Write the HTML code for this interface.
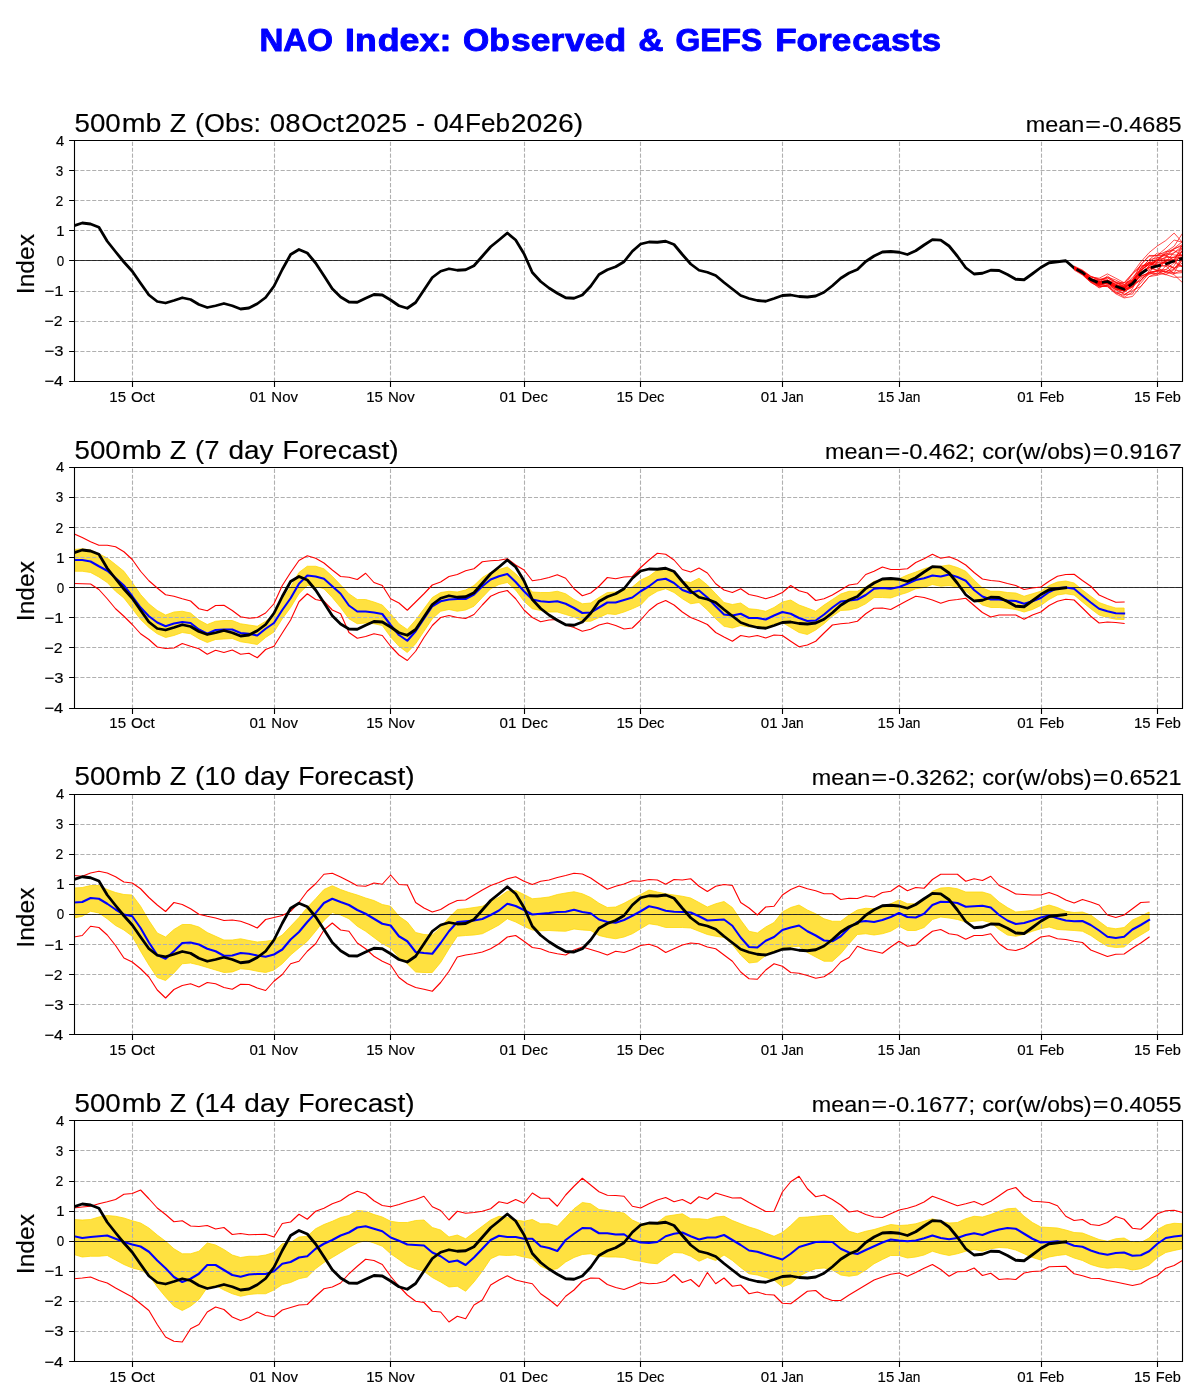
<!DOCTYPE html>
<html><head><meta charset="utf-8"><title>NAO Index: Observed &amp; GEFS Forecasts</title>
<style>
html,body{margin:0;padding:0;background:#fff}
svg{display:block;will-change:transform}
text{font-family:"Liberation Sans",sans-serif;fill:#000;stroke:#000;stroke-width:.15}
.g{stroke:#b0b0b0;stroke-width:1.11;stroke-dasharray:4.11 1.78;fill:none}
.s{stroke:#000;stroke-width:1.11;fill:none}
.o{stroke:#000;stroke-width:2.78;fill:none;stroke-linejoin:round;stroke-linecap:square}
.b{stroke:#00f;stroke-width:2.08;fill:none;stroke-linejoin:round;stroke-linecap:square}
.r{stroke:#f00;stroke-width:1.11;fill:none;stroke-linejoin:round;stroke-linecap:square}
.m{stroke:#f00;stroke-width:.7;fill:none;stroke-linejoin:round}
.y{fill:#ffd700;fill-opacity:.75;stroke:#ffd700;stroke-opacity:.75;stroke-width:1;stroke-linejoin:round}
.tk{font-size:14.7px}
.tt{font-size:26.4px}
.rt{font-size:22px;text-anchor:end}
.yl{font-size:24.2px;text-anchor:middle}
</style></head>
<body>
<svg width="1200" height="1400" viewBox="0 0 1200 1400">
<rect width="1200" height="1400" fill="#fff"/>
<g font-weight="bold" style="fill:#00f"><text x="259.43" y="50.6" font-size="30.5" textLength="73.56" lengthAdjust="spacingAndGlyphs" style="fill:#00f;stroke:#00f;stroke-width:.9;stroke-linejoin:round">NAO</text><text x="345.1" y="50.6" font-size="30.5" textLength="31.62" lengthAdjust="spacingAndGlyphs" style="fill:#00f;stroke:#00f;stroke-width:.9;stroke-linejoin:round">In</text><text x="377.69" y="50.6" font-size="30.5" textLength="73.76" lengthAdjust="spacingAndGlyphs" style="fill:#00f;stroke:#00f;stroke-width:.9;stroke-linejoin:round">dex:</text><text x="463.09" y="50.6" font-size="30.5" textLength="46.82" lengthAdjust="spacingAndGlyphs" style="fill:#00f;stroke:#00f;stroke-width:.9;stroke-linejoin:round">Ob</text><text x="511.14" y="50.6" font-size="30.5" textLength="53.19" lengthAdjust="spacingAndGlyphs" style="fill:#00f;stroke:#00f;stroke-width:.9;stroke-linejoin:round">ser</text><text x="565.11" y="50.6" font-size="30.5" textLength="61.06" lengthAdjust="spacingAndGlyphs" style="fill:#00f;stroke:#00f;stroke-width:.9;stroke-linejoin:round">ved</text><text x="638.23" y="50.6" font-size="30.5" textLength="25.26" lengthAdjust="spacingAndGlyphs" style="fill:#00f;stroke:#00f;stroke-width:.9;stroke-linejoin:round">&amp;</text><text x="675.44" y="50.6" font-size="30.5" textLength="86.72" lengthAdjust="spacingAndGlyphs" style="fill:#00f;stroke:#00f;stroke-width:.9;stroke-linejoin:round">GEFS</text><text x="775.15" y="50.6" font-size="30.5" textLength="76.02" lengthAdjust="spacingAndGlyphs" style="fill:#00f;stroke:#00f;stroke-width:.9;stroke-linejoin:round">Fore</text><text x="852.31" y="50.6" font-size="30.5" textLength="88.83" lengthAdjust="spacingAndGlyphs" style="fill:#00f;stroke:#00f;stroke-width:.9;stroke-linejoin:round">casts</text></g>
<defs><clipPath id="c0"><rect x="74" y="140" width="1109" height="242"/></clipPath><clipPath id="c1"><rect x="74" y="467" width="1109" height="242"/></clipPath><clipPath id="c2"><rect x="74" y="794" width="1109" height="241"/></clipPath><clipPath id="c3"><rect x="74" y="1120" width="1109" height="242"/></clipPath></defs>
<g id="panel1">
<g clip-path="url(#c0)">
<path class="g" d="M74.5 170.5H1182.5M74.5 200.5H1182.5M74.5 230.5H1182.5M74.5 260.5H1182.5M74.5 291.5H1182.5M74.5 321.5H1182.5M74.5 351.5H1182.5M132.5 381.5V140.5M274.5 381.5V140.5M390.5 381.5V140.5M524.5 381.5V140.5M640.5 381.5V140.5M782.5 381.5V140.5M899.5 381.5V140.5M1041.5 381.5V140.5M1157.5 381.5V140.5"/>
<path class="s" style="stroke-width:.78" d="M74.5 260.5H1182.5"/>
<path class="o" d="M73.9 225.75 L82.24 223 L90.57 224 L98.91 227.25 L107.24 241.25 L115.58 251.75 L123.91 262 L132.25 271.25 L140.58 283.25 L148.92 295 L157.25 301.5 L165.59 303 L173.92 300.5 L182.26 297.75 L190.59 299.5 L198.93 304.5 L207.26 307.5 L215.6 305.75 L223.93 303.5 L232.27 305.75 L240.6 309 L248.94 308 L257.27 303.75 L265.61 297.5 L273.94 286.25 L282.28 269.5 L290.61 254.5 L298.95 249.5 L307.28 253 L315.62 263 L323.95 275.75 L332.29 288.75 L340.62 297 L348.96 302 L357.29 302.25 L365.62 298.25 L373.96 294.5 L382.3 295 L390.63 300 L398.97 305.75 L407.3 308.25 L415.63 302.5 L423.97 290 L432.31 277.5 L440.64 271.25 L448.98 268.75 L457.31 270.25 L465.65 269.75 L473.98 265.75 L482.32 256.25 L490.65 246.75 L498.99 240 L507.32 233 L515.66 240 L523.99 253.75 L532.33 272.5 L540.66 281.5 L549 288 L557.33 293.25 L565.67 297.75 L574 298.25 L582.34 295 L590.67 286.25 L599 274.5 L607.34 269.75 L615.68 266.75 L624.01 261.75 L632.35 251.25 L640.68 244 L649.01 242 L657.35 242.25 L665.69 241.25 L674.02 244.5 L682.36 254.5 L690.69 264 L699.03 270.25 L707.36 272.25 L715.7 275.5 L724.03 282.5 L732.37 289 L740.7 295.5 L749.04 298.5 L757.37 300.5 L765.71 301.25 L774.04 298.5 L782.38 295.5 L790.71 295 L799.05 296.5 L807.38 297 L815.72 296 L824.05 292.25 L832.39 285.75 L840.72 278.25 L849.06 273 L857.39 269.5 L865.73 261.5 L874.06 256 L882.4 252 L890.73 251.5 L899.07 252.25 L907.4 254.5 L915.74 250.75 L924.07 245 L932.41 239.6 L940.74 240.1 L949.08 246 L957.41 256.25 L965.75 267.75 L974.08 274 L982.42 273.25 L990.75 270.25 L999.09 270.5 L1007.42 274.5 L1015.76 279.25 L1024.09 279.75 L1032.43 273.75 L1040.76 267.5 L1049.1 262.75 L1057.43 261.75 L1065.77 260.75 L1074.1 268"/>
<path class="m" d="M1074.1 269.15 L1082.44 273.47 L1090.77 278.76 L1099.11 282.39 L1107.44 280.75 L1115.78 284.56 L1124.11 287.6 L1132.45 282.08 L1140.78 268.13 L1149.12 259.88 L1157.45 257.6 L1165.79 259.68 L1174.12 259.63 L1182.46 248.03M1074.1 267.96 L1082.44 272.13 L1090.77 279.23 L1099.11 280.17 L1107.44 277.57 L1115.78 282.57 L1124.11 286.74 L1132.45 283.77 L1140.78 280.65 L1149.12 270.81 L1157.45 266.07 L1165.79 261.31 L1174.12 257.04 L1182.46 251.21M1074.1 268.27 L1082.44 272.86 L1090.77 280.64 L1099.11 282.63 L1107.44 282.91 L1115.78 287.97 L1124.11 289.23 L1132.45 283.47 L1140.78 273.03 L1149.12 269.75 L1157.45 262.82 L1165.79 262.09 L1174.12 261.34 L1182.46 250.81M1074.1 268.92 L1082.44 273.83 L1090.77 281.93 L1099.11 286.3 L1107.44 285.96 L1115.78 292.88 L1124.11 292.42 L1132.45 284.93 L1140.78 267.98 L1149.12 262.19 L1157.45 267.67 L1165.79 272.8 L1174.12 272.99 L1182.46 257.81M1074.1 268.69 L1082.44 273.56 L1090.77 280.78 L1099.11 285.9 L1107.44 286.3 L1115.78 292.96 L1124.11 295.33 L1132.45 288.8 L1140.78 272.49 L1149.12 268.46 L1157.45 259.2 L1165.79 261.35 L1174.12 268.72 L1182.46 260.74M1074.1 266.93 L1082.44 270.77 L1090.77 276.91 L1099.11 279.51 L1107.44 277.24 L1115.78 280.02 L1124.11 284.6 L1132.45 280.88 L1140.78 273.69 L1149.12 266.99 L1157.45 270.1 L1165.79 269.51 L1174.12 273.38 L1182.46 272.57M1074.1 268.69 L1082.44 274.57 L1090.77 281.79 L1099.11 287.93 L1107.44 284.53 L1115.78 286.12 L1124.11 290.74 L1132.45 284.64 L1140.78 276.51 L1149.12 272.67 L1157.45 270.4 L1165.79 271.64 L1174.12 269.27 L1182.46 257.33M1074.1 270.07 L1082.44 274.94 L1090.77 282.52 L1099.11 286.98 L1107.44 285.21 L1115.78 291.5 L1124.11 297.19 L1132.45 292.1 L1140.78 283.13 L1149.12 273.21 L1157.45 261 L1165.79 257.62 L1174.12 257.22 L1182.46 254.48M1074.1 268.38 L1082.44 272.16 L1090.77 278.55 L1099.11 282.27 L1107.44 281.04 L1115.78 285.07 L1124.11 289.2 L1132.45 286.22 L1140.78 273.97 L1149.12 266.02 L1157.45 260.58 L1165.79 253.46 L1174.12 254.93 L1182.46 255.64M1074.1 267.46 L1082.44 272.76 L1090.77 280.15 L1099.11 285.82 L1107.44 286.68 L1115.78 293.81 L1124.11 297.95 L1132.45 296.5 L1140.78 286.61 L1149.12 276.68 L1157.45 272.88 L1165.79 274.76 L1174.12 269.71 L1182.46 271.62M1074.1 267.07 L1082.44 270.88 L1090.77 279.01 L1099.11 282.13 L1107.44 280.14 L1115.78 283.77 L1124.11 283.14 L1132.45 273.96 L1140.78 265.12 L1149.12 265.88 L1157.45 259.27 L1165.79 251.89 L1174.12 246.24 L1182.46 233.41M1074.1 268.5 L1082.44 273.52 L1090.77 279.46 L1099.11 281.53 L1107.44 282.57 L1115.78 286.08 L1124.11 286.65 L1132.45 277.16 L1140.78 269.73 L1149.12 259.7 L1157.45 252.92 L1165.79 254.83 L1174.12 249.15 L1182.46 244.4M1074.1 269.26 L1082.44 272.82 L1090.77 279.74 L1099.11 282.89 L1107.44 281.89 L1115.78 286.63 L1124.11 286.17 L1132.45 281.36 L1140.78 264.57 L1149.12 256.31 L1157.45 255.69 L1165.79 255.11 L1174.12 260.5 L1182.46 244.8M1074.1 267.24 L1082.44 272.17 L1090.77 279.76 L1099.11 283.12 L1107.44 283.21 L1115.78 289.91 L1124.11 288.46 L1132.45 282.58 L1140.78 269.89 L1149.12 262 L1157.45 262.91 L1165.79 256.25 L1174.12 257.74 L1182.46 257.72M1074.1 267.38 L1082.44 271.92 L1090.77 278.48 L1099.11 281.4 L1107.44 281.43 L1115.78 288.86 L1124.11 290.62 L1132.45 285.16 L1140.78 274.28 L1149.12 267.41 L1157.45 270.79 L1165.79 271.45 L1174.12 274.79 L1182.46 282.57M1074.1 267.85 L1082.44 272.49 L1090.77 279.74 L1099.11 284.48 L1107.44 285.18 L1115.78 289.38 L1124.11 294.44 L1132.45 294.12 L1140.78 280.44 L1149.12 272.58 L1157.45 273.95 L1165.79 269.67 L1174.12 262.82 L1182.46 255.1M1074.1 268.25 L1082.44 272.88 L1090.77 280.17 L1099.11 283.8 L1107.44 281.94 L1115.78 286.77 L1124.11 294.35 L1132.45 290.41 L1140.78 286.49 L1149.12 276.57 L1157.45 275.26 L1165.79 272.53 L1174.12 265.79 L1182.46 250M1074.1 267.91 L1082.44 272.49 L1090.77 280.42 L1099.11 285.5 L1107.44 282.73 L1115.78 287.82 L1124.11 289.44 L1132.45 280.48 L1140.78 270.73 L1149.12 263.64 L1157.45 260.23 L1165.79 252.83 L1174.12 248.59 L1182.46 245.87M1074.1 268.5 L1082.44 273.96 L1090.77 279.69 L1099.11 283.21 L1107.44 280.3 L1115.78 285.91 L1124.11 289.49 L1132.45 286.85 L1140.78 278.02 L1149.12 274.45 L1157.45 270.52 L1165.79 257.14 L1174.12 248.31 L1182.46 241.6M1074.1 268.62 L1082.44 274.2 L1090.77 281.17 L1099.11 283.87 L1107.44 282.23 L1115.78 287.28 L1124.11 291.3 L1132.45 287.37 L1140.78 273.36 L1149.12 266.12 L1157.45 259.12 L1165.79 264.27 L1174.12 268.5 L1182.46 265.24M1074.1 268.94 L1082.44 274.34 L1090.77 281.75 L1099.11 284.66 L1107.44 282.76 L1115.78 289.98 L1124.11 290.4 L1132.45 283.83 L1140.78 275.73 L1149.12 273.45 L1157.45 274.39 L1165.79 266.06 L1174.12 273.63 L1182.46 269.82M1074.1 266.05 L1082.44 270.05 L1090.77 276.2 L1099.11 279.21 L1107.44 280.03 L1115.78 286.81 L1124.11 288.68 L1132.45 281.05 L1140.78 276.69 L1149.12 272.39 L1157.45 270.9 L1165.79 274.57 L1174.12 277.32 L1182.46 277.05M1074.1 266.73 L1082.44 270.82 L1090.77 276.5 L1099.11 280.42 L1107.44 278.12 L1115.78 281.93 L1124.11 282.74 L1132.45 280.13 L1140.78 270.72 L1149.12 263.65 L1157.45 264.38 L1165.79 262.3 L1174.12 262.43 L1182.46 266.94M1074.1 268.36 L1082.44 272.59 L1090.77 279.82 L1099.11 283.41 L1107.44 281.35 L1115.78 284.42 L1124.11 287.87 L1132.45 279.97 L1140.78 270.28 L1149.12 264.32 L1157.45 257.7 L1165.79 255.31 L1174.12 252.82 L1182.46 248.04M1074.1 268.85 L1082.44 273.43 L1090.77 279.2 L1099.11 282.37 L1107.44 275.95 L1115.78 282.3 L1124.11 284.83 L1132.45 279.28 L1140.78 264.98 L1149.12 255.45 L1157.45 255.48 L1165.79 251.51 L1174.12 250.48 L1182.46 255.88M1074.1 267.54 L1082.44 271.16 L1090.77 276.9 L1099.11 278.24 L1107.44 273.9 L1115.78 278.21 L1124.11 282.73 L1132.45 273.27 L1140.78 261.96 L1149.12 252.63 L1157.45 245.87 L1165.79 240.56 L1174.12 233.09 L1182.46 242.35M1074.1 267.36 L1082.44 272.19 L1090.77 279.93 L1099.11 284.89 L1107.44 283.13 L1115.78 288.04 L1124.11 291.6 L1132.45 286.59 L1140.78 279.91 L1149.12 272.31 L1157.45 271.57 L1165.79 259.9 L1174.12 260.64 L1182.46 267.19M1074.1 267.13 L1082.44 271.98 L1090.77 278.78 L1099.11 281.32 L1107.44 281.47 L1115.78 287.56 L1124.11 287.56 L1132.45 282.48 L1140.78 272.09 L1149.12 267.79 L1157.45 265.02 L1165.79 266.48 L1174.12 260.79 L1182.46 256.66M1074.1 268.1 L1082.44 272.75 L1090.77 279.58 L1099.11 281.85 L1107.44 280.19 L1115.78 284.76 L1124.11 286.07 L1132.45 282.19 L1140.78 270.24 L1149.12 264.33 L1157.45 266.15 L1165.79 265.44 L1174.12 267.89 L1182.46 263.04M1074.1 268.13 L1082.44 272.79 L1090.77 279.99 L1099.11 283.81 L1107.44 283.37 L1115.78 285.97 L1124.11 288.64 L1132.45 281.69 L1140.78 271.78 L1149.12 262.57 L1157.45 255.27 L1165.79 248.23 L1174.12 240.06 L1182.46 242.21M1074.1 268.22 L1082.44 271.64 L1090.77 278.68 L1099.11 282.22 L1107.44 280.41 L1115.78 282.29 L1124.11 286.12 L1132.45 273.86 L1140.78 266.72 L1149.12 262.66 L1157.45 264.96 L1165.79 261.7 L1174.12 252.43 L1182.46 246.08"/>
<path class="o" style="stroke-linecap:butt;stroke-width:2.78;stroke-dasharray:10.3 4.45;stroke-dashoffset:12.0" d="M1074.1 268 L1082.44 272.5 L1090.77 279.5 L1099.11 283 L1107.44 281.5 L1115.78 286.25 L1124.11 289.25 L1132.45 283.75 L1140.78 273.75 L1149.12 268 L1157.45 266 L1165.79 264 L1174.12 261 L1182.46 258.25"/>
</g>
<path class="s" d="M74.5 140.5H1182.5V381.5H74.5ZM74.5 140.5h-5.4M74.5 170.5h-5.4M74.5 200.5h-5.4M74.5 230.5h-5.4M74.5 260.5h-5.4M74.5 291.5h-5.4M74.5 321.5h-5.4M74.5 351.5h-5.4M74.5 381.5h-5.4M132.5 381.5v5.4M274.5 381.5v5.4M390.5 381.5v5.4M524.5 381.5v5.4M640.5 381.5v5.4M782.5 381.5v5.4M899.5 381.5v5.4M1041.5 381.5v5.4M1157.5 381.5v5.4"/>
<text x="55.96" y="146" font-size="14.7" textLength="8.17" lengthAdjust="spacingAndGlyphs">4</text><text x="55.79" y="176" font-size="14.7" textLength="7.51" lengthAdjust="spacingAndGlyphs">3</text><text x="55.59" y="206" font-size="14.7" textLength="7.81" lengthAdjust="spacingAndGlyphs">2</text><text x="56.17" y="236" font-size="14.7" textLength="8.26" lengthAdjust="spacingAndGlyphs">1</text><text x="56.78" y="266" font-size="14.7" textLength="7.45" lengthAdjust="spacingAndGlyphs">0</text><text x="44.48" y="296" font-size="14.7" textLength="19.04" lengthAdjust="spacingAndGlyphs">−1</text><text x="44.52" y="326" font-size="14.7" textLength="17.97" lengthAdjust="spacingAndGlyphs">−2</text><text x="44.48" y="356" font-size="14.7" textLength="18.95" lengthAdjust="spacingAndGlyphs">−3</text><text x="44.49" y="386" font-size="14.7" textLength="18.69" lengthAdjust="spacingAndGlyphs">−4</text>
<text x="109.33" y="402" font-size="14.7" textLength="16.71" lengthAdjust="spacingAndGlyphs">15</text><text x="131.1" y="402" font-size="14.7" textLength="23.74" lengthAdjust="spacingAndGlyphs">Oct</text><text x="249.44" y="402" font-size="14.7" textLength="16.8" lengthAdjust="spacingAndGlyphs">01</text><text x="271.34" y="402" font-size="14.7" textLength="26.61" lengthAdjust="spacingAndGlyphs">Nov</text><text x="366.2" y="402" font-size="14.7" textLength="16.71" lengthAdjust="spacingAndGlyphs">15</text><text x="388.04" y="402" font-size="14.7" textLength="26.61" lengthAdjust="spacingAndGlyphs">Nov</text><text x="499.64" y="402" font-size="14.7" textLength="16.8" lengthAdjust="spacingAndGlyphs">01</text><text x="521.55" y="402" font-size="14.7" textLength="26.25" lengthAdjust="spacingAndGlyphs">Dec</text><text x="616.4" y="402" font-size="14.7" textLength="16.71" lengthAdjust="spacingAndGlyphs">15</text><text x="638.26" y="402" font-size="14.7" textLength="26.25" lengthAdjust="spacingAndGlyphs">Dec</text><text x="760.79" y="402" font-size="14.7" textLength="16.8" lengthAdjust="spacingAndGlyphs">01</text><text x="781.62" y="402" font-size="14.7" textLength="22.05" lengthAdjust="spacingAndGlyphs">Jan</text><text x="877.55" y="402" font-size="14.7" textLength="16.71" lengthAdjust="spacingAndGlyphs">15</text><text x="898.32" y="402" font-size="14.7" textLength="22.05" lengthAdjust="spacingAndGlyphs">Jan</text><text x="1017.23" y="402" font-size="14.7" textLength="16.8" lengthAdjust="spacingAndGlyphs">01</text><text x="1039.17" y="402" font-size="14.7" textLength="25.03" lengthAdjust="spacingAndGlyphs">Feb</text><text x="1133.99" y="402" font-size="14.7" textLength="16.71" lengthAdjust="spacingAndGlyphs">15</text><text x="1155.87" y="402" font-size="14.7" textLength="25.03" lengthAdjust="spacingAndGlyphs">Feb</text>
<text x="74.47" y="132" font-size="26.4" textLength="46.32" lengthAdjust="spacingAndGlyphs">500</text><text x="121.74" y="132" font-size="26.4" textLength="39.68" lengthAdjust="spacingAndGlyphs">mb</text><text x="169.8" y="132" font-size="26.4" textLength="16.59" lengthAdjust="spacingAndGlyphs">Z</text><text x="195.09" y="132" font-size="26.4" textLength="65.81" lengthAdjust="spacingAndGlyphs">(Obs:</text><text x="269.87" y="132" font-size="26.4" textLength="30.73" lengthAdjust="spacingAndGlyphs">08</text><text x="301.22" y="132" font-size="26.4" textLength="42.73" lengthAdjust="spacingAndGlyphs">Oct</text><text x="344.77" y="132" font-size="26.4" textLength="62.19" lengthAdjust="spacingAndGlyphs">2025</text><text x="415.93" y="132" font-size="26.4" textLength="8.97" lengthAdjust="spacingAndGlyphs">-</text><text x="433.45" y="132" font-size="26.4" textLength="30.64" lengthAdjust="spacingAndGlyphs">04</text><text x="465" y="132" font-size="26.4" textLength="45.05" lengthAdjust="spacingAndGlyphs">Feb</text><text x="510.72" y="132" font-size="26.4" textLength="72.58" lengthAdjust="spacingAndGlyphs">2026)</text>
<text x="1025.73" y="132" font-size="22" textLength="58.49" lengthAdjust="spacingAndGlyphs">mean</text><text x="1085.37" y="132" font-size="22" textLength="15.68" lengthAdjust="spacingAndGlyphs">=</text><text x="1101.9" y="132" font-size="22" textLength="79.6" lengthAdjust="spacingAndGlyphs">-0.4685</text>
<text transform="translate(34.1 291.9) rotate(-90)" x="-2.27" y="0" font-size="24.2" textLength="60.13" lengthAdjust="spacingAndGlyphs">Index</text>
</g>
<g id="panel2">
<g clip-path="url(#c1)">
<path class="y" d="M73.9 549.5 L82.24 548.75 L90.57 550 L98.91 553.75 L107.24 558 L115.58 564.5 L123.91 571.25 L132.25 582.5 L140.58 594.5 L148.92 603.75 L157.25 610.5 L165.59 615 L173.92 612 L182.26 611.25 L190.59 613 L198.93 620 L207.26 624.5 L215.6 621.25 L223.93 620.5 L232.27 620.5 L240.6 623.75 L248.94 625 L257.27 626.25 L265.61 621.25 L273.94 615 L282.28 599.5 L290.61 587 L298.95 572.5 L307.28 566.25 L315.62 566.25 L323.95 568.75 L332.29 576.25 L340.62 585 L348.96 593.75 L357.29 599.5 L365.62 599.5 L373.96 602 L382.3 605 L390.63 613.75 L398.97 623.75 L407.3 629.5 L415.63 620 L423.97 608.75 L432.31 597.5 L440.64 592.5 L448.98 591.25 L457.31 592 L465.65 590 L473.98 585.5 L482.32 577.5 L490.65 572.5 L498.99 569.5 L507.32 567 L515.66 573.75 L523.99 582.5 L532.33 592 L540.66 592.5 L549 592.5 L557.33 591.25 L565.67 593.75 L574 599.5 L582.34 603.75 L590.67 603 L599 597.5 L607.34 592.5 L615.68 592 L624.01 590 L632.35 587 L640.68 580 L649.01 576.25 L657.35 570 L665.69 568.75 L674.02 573.75 L682.36 581.25 L690.69 582.5 L699.03 578.25 L707.36 585 L715.7 593.75 L724.03 602.5 L732.37 604.5 L740.7 603 L749.04 608.75 L757.37 609.5 L765.71 611.25 L774.04 607.5 L782.38 602 L790.71 600 L799.05 605 L807.38 608 L815.72 611.25 L824.05 605 L832.39 599.5 L840.72 594 L849.06 591.25 L857.39 591.25 L865.73 587 L874.06 581.25 L882.4 579.5 L890.73 580 L899.07 578.75 L907.4 575 L915.74 572 L924.07 568.75 L932.41 566.25 L940.74 566.25 L949.08 565 L957.41 567.5 L965.75 571.25 L974.08 580 L982.42 588 L990.75 591.25 L999.09 591.25 L1007.42 592.5 L1015.76 593 L1024.09 596.25 L1032.43 593.75 L1040.76 591.25 L1049.1 585.5 L1057.43 582 L1065.77 581 L1074.1 583 L1082.44 590 L1090.77 596.25 L1099.11 602.5 L1107.44 605.5 L1115.78 608 L1124.11 608 L1124.11 619.5 L1115.78 619.25 L1107.44 617.5 L1099.11 615 L1090.77 608.75 L1082.44 602 L1074.1 595 L1065.77 593.75 L1057.43 595 L1049.1 599.5 L1040.76 605.5 L1032.43 609.5 L1024.09 612 L1015.76 609.5 L1007.42 608.25 L999.09 607.5 L990.75 607.5 L982.42 605 L974.08 598.75 L965.75 591.25 L957.41 587 L949.08 585.5 L940.74 586.25 L932.41 584.5 L924.07 587.5 L915.74 588.75 L907.4 592.5 L899.07 595 L890.73 598 L882.4 597.5 L874.06 597.5 L865.73 603.75 L857.39 608 L849.06 610 L840.72 610.5 L832.39 616.25 L824.05 623.75 L815.72 630 L807.38 634.5 L799.05 632.5 L790.71 627.5 L782.38 622.5 L774.04 623.75 L765.71 627.5 L757.37 627 L749.04 627 L740.7 625.5 L732.37 628 L724.03 626.25 L715.7 618.75 L707.36 610 L699.03 602.5 L690.69 603.75 L682.36 598.75 L674.02 592.5 L665.69 588.75 L657.35 591.25 L649.01 596.25 L640.68 605 L632.35 608.75 L624.01 612 L615.68 614.5 L607.34 613.75 L599 617.5 L590.67 621.25 L582.34 621.25 L574 617 L565.67 614.5 L557.33 612 L549 612 L540.66 610.5 L532.33 608.75 L523.99 601.25 L515.66 590 L507.32 582.5 L498.99 584.5 L490.65 588.75 L482.32 597.5 L473.98 606.25 L465.65 610 L457.31 611.25 L448.98 609.5 L440.64 611.25 L432.31 618.75 L423.97 631.25 L415.63 643.75 L407.3 652.5 L398.97 646.25 L390.63 637 L382.3 625.5 L373.96 623.75 L365.62 623 L357.29 623.75 L348.96 618.75 L340.62 607.5 L332.29 597.5 L323.95 588.75 L315.62 586.25 L307.28 585.5 L298.95 593.75 L290.61 607.5 L282.28 618.75 L273.94 632 L265.61 637.5 L257.27 644.5 L248.94 643 L240.6 641.75 L232.27 638.5 L223.93 639 L215.6 639.5 L207.26 642.5 L198.93 638.75 L190.59 633.75 L182.26 632.5 L173.92 635.5 L165.59 637.5 L157.25 633.75 L148.92 627.5 L140.58 619.5 L132.25 608.75 L123.91 598 L115.58 591.25 L107.24 582.5 L98.91 577 L90.57 572.5 L82.24 571.25 L73.9 571.25Z"/>
<path class="g" d="M74.5 497.5H1182.5M74.5 527.5H1182.5M74.5 557.5H1182.5M74.5 587.5H1182.5M74.5 617.5H1182.5M74.5 647.5H1182.5M74.5 677.5H1182.5M132.5 708.5V467.5M274.5 708.5V467.5M390.5 708.5V467.5M524.5 708.5V467.5M640.5 708.5V467.5M782.5 708.5V467.5M899.5 708.5V467.5M1041.5 708.5V467.5M1157.5 708.5V467.5"/>
<path class="s" style="stroke-width:.78" d="M74.5 587.5H1182.5"/>
<path class="r" d="M73.9 533.75 L82.24 537.5 L90.57 541.75 L98.91 545.25 L107.24 545.25 L115.58 546.75 L123.91 551.75 L132.25 559.5 L140.58 571.25 L148.92 580.75 L157.25 588 L165.59 594.75 L173.92 596.25 L182.26 598.75 L190.59 601 L198.93 608.75 L207.26 610.75 L215.6 605.5 L223.93 605.25 L232.27 610.5 L240.6 616.75 L248.94 618.25 L257.27 617.5 L265.61 613 L273.94 603.75 L282.28 585.5 L290.61 572.5 L298.95 560.5 L307.28 555.75 L315.62 558.25 L323.95 563 L332.29 570 L340.62 576.5 L348.96 577.25 L357.29 579.5 L365.62 573.25 L373.96 582.5 L382.3 585.5 L390.63 598.75 L398.97 603 L407.3 610.25 L415.63 602 L423.97 593.75 L432.31 585 L440.64 582 L448.98 576.5 L457.31 574.5 L465.65 570.75 L473.98 568.75 L482.32 561.75 L490.65 560.75 L498.99 560.25 L507.32 558.75 L515.66 565 L523.99 570 L532.33 580.75 L540.66 579.5 L549 577.5 L557.33 574.75 L565.67 578.25 L574 588.75 L582.34 595.75 L590.67 593 L599 586.25 L607.34 577.5 L615.68 578.75 L624.01 577 L632.35 576.5 L640.68 567.5 L649.01 560 L657.35 553.25 L665.69 554.25 L674.02 560 L682.36 569.5 L690.69 572 L699.03 568 L707.36 573 L715.7 583.75 L724.03 590 L732.37 592.5 L740.7 588.75 L749.04 594.5 L757.37 596.25 L765.71 598.75 L774.04 596.25 L782.38 592.5 L790.71 585.5 L799.05 590.75 L807.38 593 L815.72 600.5 L824.05 598.75 L832.39 595 L840.72 590 L849.06 585 L857.39 583.75 L865.73 574.5 L874.06 571.25 L882.4 567 L890.73 569.5 L899.07 569.5 L907.4 568.75 L915.74 562.5 L924.07 558.75 L932.41 554.25 L940.74 558.25 L949.08 556.75 L957.41 560 L965.75 565 L974.08 572.5 L982.42 579 L990.75 580.5 L999.09 581.25 L1007.42 583.5 L1015.76 585.5 L1024.09 589.5 L1032.43 588 L1040.76 587 L1049.1 581.25 L1057.43 576.25 L1065.77 574.5 L1074.1 574.25 L1082.44 580.5 L1090.77 586.25 L1099.11 595 L1107.44 598.75 L1115.78 602.25 L1124.11 602M73.9 583.5 L82.24 583.75 L90.57 584 L98.91 589.5 L107.24 598.75 L115.58 608.75 L123.91 616.25 L132.25 624.5 L140.58 633.75 L148.92 639.5 L157.25 647 L165.59 648.5 L173.92 648 L182.26 643.5 L190.59 646.25 L198.93 648.75 L207.26 654.25 L215.6 650.25 L223.93 652.5 L232.27 650 L240.6 654.25 L248.94 653.25 L257.27 657.75 L265.61 649.5 L273.94 646.25 L282.28 633 L290.61 620 L298.95 601.75 L307.28 593.75 L315.62 599.5 L323.95 601.25 L332.29 610 L340.62 613.75 L348.96 632.5 L357.29 638.25 L365.62 636.5 L373.96 633.75 L382.3 635.5 L390.63 646.25 L398.97 655 L407.3 660.5 L415.63 651.25 L423.97 637.5 L432.31 625.5 L440.64 617.5 L448.98 615.5 L457.31 617.5 L465.65 618.5 L473.98 614.5 L482.32 605 L490.65 596.25 L498.99 592.5 L507.32 590.5 L515.66 598.75 L523.99 610 L532.33 617.5 L540.66 621.75 L549 620 L557.33 619.5 L565.67 625 L574 627.5 L582.34 631.25 L590.67 629.25 L599 625 L607.34 623 L615.68 625.5 L624.01 629 L632.35 628 L640.68 620 L649.01 610.5 L657.35 604 L665.69 600.5 L674.02 605 L682.36 612 L690.69 617.5 L699.03 620.75 L707.36 624.5 L715.7 632.5 L724.03 637 L732.37 641.25 L740.7 635.5 L749.04 637 L757.37 635.5 L765.71 638 L774.04 635 L782.38 635.5 L790.71 641.25 L799.05 646.75 L807.38 645 L815.72 641.25 L824.05 633 L832.39 625 L840.72 623.75 L849.06 623 L857.39 621.25 L865.73 613.75 L874.06 608.25 L882.4 608 L890.73 609.5 L899.07 605 L907.4 600.5 L915.74 596.25 L924.07 597.5 L932.41 600 L940.74 603.25 L949.08 600.5 L957.41 599.5 L965.75 598.25 L974.08 605.5 L982.42 612.5 L990.75 617 L999.09 615 L1007.42 615 L1015.76 615 L1024.09 619.25 L1032.43 615 L1040.76 612 L1049.1 605.5 L1057.43 601.25 L1065.77 599.25 L1074.1 600 L1082.44 608 L1090.77 616.25 L1099.11 623 L1107.44 622 L1115.78 622.5 L1124.11 623.5"/>
<path class="b" d="M73.9 560 L82.24 560 L90.57 561.5 L98.91 566.25 L107.24 570.75 L115.58 578 L123.91 585.5 L132.25 596.25 L140.58 607.5 L148.92 616.25 L157.25 622.5 L165.59 626.25 L173.92 623.5 L182.26 622 L190.59 623 L198.93 629.5 L207.26 633.75 L215.6 630 L223.93 629.5 L232.27 629.5 L240.6 633 L248.94 633.75 L257.27 635.5 L265.61 628.75 L273.94 623 L282.28 610 L290.61 598.25 L298.95 583.75 L307.28 575.5 L315.62 576.5 L323.95 578.75 L332.29 586.25 L340.62 593.75 L348.96 605.5 L357.29 611.5 L365.62 611.5 L373.96 612.5 L382.3 614 L390.63 625 L398.97 635 L407.3 640.75 L415.63 631.25 L423.97 618.75 L432.31 606.25 L440.64 601.25 L448.98 599.5 L457.31 599 L465.65 599 L473.98 594.5 L482.32 586.25 L490.65 579.5 L498.99 576.25 L507.32 574 L515.66 582 L523.99 591.25 L532.33 599.5 L540.66 601.25 L549 602 L557.33 601.25 L565.67 603.75 L574 608 L582.34 613 L590.67 612.5 L599 607.5 L607.34 602.5 L615.68 602.5 L624.01 600 L632.35 597.5 L640.68 591.25 L649.01 586.25 L657.35 580 L665.69 578.75 L674.02 583 L682.36 590 L690.69 593 L699.03 590.5 L707.36 597.5 L715.7 606.25 L724.03 614.5 L732.37 615.5 L740.7 613.75 L749.04 618 L757.37 618 L765.71 619.5 L774.04 615.5 L782.38 612 L790.71 613.75 L799.05 618 L807.38 621 L815.72 620.5 L824.05 614.5 L832.39 607.5 L840.72 601.5 L849.06 600.5 L857.39 599.5 L865.73 595 L874.06 588.75 L882.4 588 L890.73 588.75 L899.07 587 L907.4 583.75 L915.74 580 L924.07 578.25 L932.41 575.5 L940.74 576.5 L949.08 574.5 L957.41 577 L965.75 580.75 L974.08 590 L982.42 596.5 L990.75 599.5 L999.09 599.5 L1007.42 600.5 L1015.76 601 L1024.09 603.75 L1032.43 601.25 L1040.76 598 L1049.1 592 L1057.43 588 L1065.77 587.5 L1074.1 588.75 L1082.44 595.75 L1090.77 602.5 L1099.11 608.75 L1107.44 611.25 L1115.78 613.25 L1124.11 613.5"/>
<path class="o" d="M73.9 552.75 L82.24 550 L90.57 551 L98.91 554.25 L107.24 568.25 L115.58 578.75 L123.91 589 L132.25 598.25 L140.58 610.25 L148.92 622 L157.25 628.5 L165.59 630 L173.92 627.5 L182.26 624.75 L190.59 626.5 L198.93 631.5 L207.26 634.5 L215.6 632.75 L223.93 630.5 L232.27 632.75 L240.6 636 L248.94 635 L257.27 630.75 L265.61 624.5 L273.94 613.25 L282.28 596.5 L290.61 581.5 L298.95 576.5 L307.28 580 L315.62 590 L323.95 602.75 L332.29 615.75 L340.62 624 L348.96 629 L357.29 629.25 L365.62 625.25 L373.96 621.5 L382.3 622 L390.63 627 L398.97 632.75 L407.3 635.25 L415.63 629.5 L423.97 617 L432.31 604.5 L440.64 598.25 L448.98 595.75 L457.31 597.25 L465.65 596.75 L473.98 592.75 L482.32 583.25 L490.65 573.75 L498.99 567 L507.32 560 L515.66 567 L523.99 580.75 L532.33 599.5 L540.66 608.5 L549 615 L557.33 620.25 L565.67 624.75 L574 625.25 L582.34 622 L590.67 613.25 L599 601.5 L607.34 596.75 L615.68 593.75 L624.01 588.75 L632.35 578.25 L640.68 571 L649.01 569 L657.35 569.25 L665.69 568.25 L674.02 571.5 L682.36 581.5 L690.69 591 L699.03 597.25 L707.36 599.25 L715.7 602.5 L724.03 609.5 L732.37 616 L740.7 622.5 L749.04 625.5 L757.37 627.5 L765.71 628.25 L774.04 625.5 L782.38 622.5 L790.71 622 L799.05 623.5 L807.38 624 L815.72 623 L824.05 619.25 L832.39 612.75 L840.72 605.25 L849.06 600 L857.39 596.5 L865.73 588.5 L874.06 583 L882.4 579 L890.73 578.5 L899.07 579.25 L907.4 581.5 L915.74 577.75 L924.07 572 L932.41 566.6 L940.74 567.1 L949.08 573 L957.41 583.25 L965.75 594.75 L974.08 601 L982.42 600.25 L990.75 597.25 L999.09 597.5 L1007.42 601.5 L1015.76 606.25 L1024.09 606.75 L1032.43 600.75 L1040.76 594.5 L1049.1 589.75 L1057.43 588.75 L1065.77 587.75"/>
</g>
<path class="s" d="M74.5 467.5H1182.5V708.5H74.5ZM74.5 467.5h-5.4M74.5 497.5h-5.4M74.5 527.5h-5.4M74.5 557.5h-5.4M74.5 587.5h-5.4M74.5 617.5h-5.4M74.5 647.5h-5.4M74.5 677.5h-5.4M74.5 708.5h-5.4M132.5 708.5v5.4M274.5 708.5v5.4M390.5 708.5v5.4M524.5 708.5v5.4M640.5 708.5v5.4M782.5 708.5v5.4M899.5 708.5v5.4M1041.5 708.5v5.4M1157.5 708.5v5.4"/>
<text x="55.96" y="472" font-size="14.7" textLength="8.17" lengthAdjust="spacingAndGlyphs">4</text><text x="55.79" y="502" font-size="14.7" textLength="7.51" lengthAdjust="spacingAndGlyphs">3</text><text x="55.59" y="533" font-size="14.7" textLength="7.81" lengthAdjust="spacingAndGlyphs">2</text><text x="56.17" y="563" font-size="14.7" textLength="8.26" lengthAdjust="spacingAndGlyphs">1</text><text x="56.78" y="593" font-size="14.7" textLength="7.45" lengthAdjust="spacingAndGlyphs">0</text><text x="44.48" y="623" font-size="14.7" textLength="19.04" lengthAdjust="spacingAndGlyphs">−1</text><text x="44.52" y="653" font-size="14.7" textLength="17.97" lengthAdjust="spacingAndGlyphs">−2</text><text x="44.48" y="683" font-size="14.7" textLength="18.95" lengthAdjust="spacingAndGlyphs">−3</text><text x="44.49" y="713" font-size="14.7" textLength="18.69" lengthAdjust="spacingAndGlyphs">−4</text>
<text x="109.33" y="728" font-size="14.7" textLength="16.71" lengthAdjust="spacingAndGlyphs">15</text><text x="131.1" y="728" font-size="14.7" textLength="23.74" lengthAdjust="spacingAndGlyphs">Oct</text><text x="249.44" y="728" font-size="14.7" textLength="16.8" lengthAdjust="spacingAndGlyphs">01</text><text x="271.34" y="728" font-size="14.7" textLength="26.61" lengthAdjust="spacingAndGlyphs">Nov</text><text x="366.2" y="728" font-size="14.7" textLength="16.71" lengthAdjust="spacingAndGlyphs">15</text><text x="388.04" y="728" font-size="14.7" textLength="26.61" lengthAdjust="spacingAndGlyphs">Nov</text><text x="499.64" y="728" font-size="14.7" textLength="16.8" lengthAdjust="spacingAndGlyphs">01</text><text x="521.55" y="728" font-size="14.7" textLength="26.25" lengthAdjust="spacingAndGlyphs">Dec</text><text x="616.4" y="728" font-size="14.7" textLength="16.71" lengthAdjust="spacingAndGlyphs">15</text><text x="638.26" y="728" font-size="14.7" textLength="26.25" lengthAdjust="spacingAndGlyphs">Dec</text><text x="760.79" y="728" font-size="14.7" textLength="16.8" lengthAdjust="spacingAndGlyphs">01</text><text x="781.62" y="728" font-size="14.7" textLength="22.05" lengthAdjust="spacingAndGlyphs">Jan</text><text x="877.55" y="728" font-size="14.7" textLength="16.71" lengthAdjust="spacingAndGlyphs">15</text><text x="898.32" y="728" font-size="14.7" textLength="22.05" lengthAdjust="spacingAndGlyphs">Jan</text><text x="1017.23" y="728" font-size="14.7" textLength="16.8" lengthAdjust="spacingAndGlyphs">01</text><text x="1039.17" y="728" font-size="14.7" textLength="25.03" lengthAdjust="spacingAndGlyphs">Feb</text><text x="1133.99" y="728" font-size="14.7" textLength="16.71" lengthAdjust="spacingAndGlyphs">15</text><text x="1155.87" y="728" font-size="14.7" textLength="25.03" lengthAdjust="spacingAndGlyphs">Feb</text>
<text x="74.47" y="459" font-size="26.4" textLength="46.32" lengthAdjust="spacingAndGlyphs">500</text><text x="121.74" y="459" font-size="26.4" textLength="39.68" lengthAdjust="spacingAndGlyphs">mb</text><text x="169.8" y="459" font-size="26.4" textLength="16.59" lengthAdjust="spacingAndGlyphs">Z</text><text x="195.05" y="459" font-size="26.4" textLength="24.46" lengthAdjust="spacingAndGlyphs">(7</text><text x="228.42" y="459" font-size="26.4" textLength="45.09" lengthAdjust="spacingAndGlyphs">day</text><text x="282.41" y="459" font-size="26.4" textLength="54.93" lengthAdjust="spacingAndGlyphs">Fore</text><text x="337.66" y="459" font-size="26.4" textLength="61.06" lengthAdjust="spacingAndGlyphs">cast)</text>
<text x="825.09" y="459" font-size="22" textLength="58.49" lengthAdjust="spacingAndGlyphs">mean</text><text x="884.73" y="459" font-size="22" textLength="15.68" lengthAdjust="spacingAndGlyphs">=</text><text x="901.25" y="459" font-size="22" textLength="73.92" lengthAdjust="spacingAndGlyphs">-0.462;</text><text x="982.22" y="459" font-size="22" textLength="33.02" lengthAdjust="spacingAndGlyphs">cor</text><text x="1015.16" y="459" font-size="22" textLength="31.88" lengthAdjust="spacingAndGlyphs">(w/</text><text x="1047.23" y="459" font-size="22" textLength="44.38" lengthAdjust="spacingAndGlyphs">obs)</text><text x="1092.88" y="459" font-size="22" textLength="15.68" lengthAdjust="spacingAndGlyphs">=</text><text x="1109.9" y="459" font-size="22" textLength="71.84" lengthAdjust="spacingAndGlyphs">0.9167</text>
<text transform="translate(34.1 618.9) rotate(-90)" x="-2.27" y="0" font-size="24.2" textLength="60.13" lengthAdjust="spacingAndGlyphs">Index</text>
</g>
<g id="panel3">
<g clip-path="url(#c2)">
<path class="y" d="M73.9 888 L82.24 887.5 L90.57 885.5 L98.91 885.5 L107.24 889.5 L115.58 892.5 L123.91 894.5 L132.25 895 L140.58 906.25 L148.92 920.5 L157.25 933 L165.59 937 L173.92 929.5 L182.26 924.5 L190.59 924.5 L198.93 927 L207.26 932.5 L215.6 936.25 L223.93 940 L232.27 940 L240.6 938.75 L248.94 940.5 L257.27 942 L265.61 941.25 L273.94 940 L282.28 935 L290.61 926.25 L298.95 917.5 L307.28 907.5 L315.62 898.75 L323.95 889.5 L332.29 885.75 L340.62 889.5 L348.96 892.5 L357.29 895 L365.62 898 L373.96 900.5 L382.3 904.5 L390.63 906.25 L398.97 916.25 L407.3 922 L415.63 932.5 L423.97 934.5 L432.31 935 L440.64 927.5 L448.98 917.5 L457.31 909.5 L465.65 908.75 L473.98 907.5 L482.32 906.25 L490.65 901.5 L498.99 897.25 L507.32 891.25 L515.66 890.5 L523.99 894.5 L532.33 898.75 L540.66 898 L549 897 L557.33 894.5 L565.67 893 L574 891.75 L582.34 893.75 L590.67 897.5 L599 903.25 L607.34 907.5 L615.68 907 L624.01 903.25 L632.35 898.75 L640.68 894.5 L649.01 890 L657.35 892 L665.69 893.75 L674.02 895 L682.36 896.25 L690.69 898 L699.03 902.5 L707.36 907 L715.7 903.75 L724.03 901.5 L732.37 907.5 L740.7 920 L749.04 931.25 L757.37 933 L765.71 927 L774.04 922.5 L782.38 912 L790.71 907.5 L799.05 905 L807.38 910 L815.72 913.75 L824.05 918.75 L832.39 921.25 L840.72 921.25 L849.06 915 L857.39 910 L865.73 908.25 L874.06 908.75 L882.4 907 L890.73 903.75 L899.07 900 L907.4 903.75 L915.74 903.75 L924.07 899.5 L932.41 891.25 L940.74 888 L949.08 887.5 L957.41 888.75 L965.75 892 L974.08 892 L982.42 892 L990.75 894.5 L999.09 902 L1007.42 907.5 L1015.76 912 L1024.09 911.25 L1032.43 910.5 L1040.76 907.5 L1049.1 905 L1057.43 907.5 L1065.77 911.25 L1074.1 912.5 L1082.44 912 L1090.77 915 L1099.11 921.25 L1107.44 927.5 L1115.78 928.75 L1124.11 927.5 L1132.45 920 L1140.78 916.25 L1149.12 912 L1149.12 930 L1140.78 935 L1132.45 940 L1124.11 947 L1115.78 947.5 L1107.44 946.25 L1099.11 941.25 L1090.77 935.5 L1082.44 931.25 L1074.1 930.5 L1065.77 930 L1057.43 929.5 L1049.1 927 L1040.76 928.75 L1032.43 931.25 L1024.09 934.5 L1015.76 936.25 L1007.42 935 L999.09 929.5 L990.75 922.5 L982.42 920.5 L974.08 921.25 L965.75 922 L957.41 919.5 L949.08 918 L940.74 917 L932.41 919.5 L924.07 927.5 L915.74 930.5 L907.4 930.5 L899.07 926.25 L890.73 931.25 L882.4 933.75 L874.06 935 L865.73 933.75 L857.39 934.5 L849.06 943.75 L840.72 953.75 L832.39 961.25 L824.05 961.25 L815.72 957 L807.38 952.5 L799.05 946.25 L790.71 947 L782.38 947.5 L774.04 952 L765.71 955.5 L757.37 962 L749.04 963 L740.7 955 L732.37 944.5 L724.03 937.5 L715.7 936.25 L707.36 934.5 L699.03 931.25 L690.69 928 L682.36 927.5 L674.02 927.5 L665.69 927.5 L657.35 925 L649.01 923.75 L640.68 928.75 L632.35 933.75 L624.01 937 L615.68 938.75 L607.34 937.5 L599 935.5 L590.67 930.5 L582.34 930 L574 929 L565.67 931.25 L557.33 931 L549 930.5 L540.66 930.75 L532.33 930 L523.99 926.25 L515.66 922 L507.32 918.75 L498.99 925 L490.65 929.5 L482.32 933.75 L473.98 935 L465.65 935.5 L457.31 936.25 L448.98 948.75 L440.64 962.5 L432.31 972.5 L423.97 972.5 L415.63 972 L407.3 963.75 L398.97 957.5 L390.63 948 L382.3 943.75 L373.96 937.5 L365.62 931.25 L357.29 926.25 L348.96 918.75 L340.62 915 L332.29 912.5 L323.95 920.5 L315.62 931.25 L307.28 941.25 L298.95 948 L290.61 955 L282.28 963.75 L273.94 970 L265.61 972.5 L257.27 971.25 L248.94 969.5 L240.6 968.75 L232.27 972 L223.93 972.5 L215.6 970 L207.26 967.5 L198.93 965 L190.59 963 L182.26 963.75 L173.92 973 L165.59 980.5 L157.25 977.5 L148.92 965 L140.58 951.25 L132.25 936.25 L123.91 930 L115.58 925.5 L107.24 918.75 L98.91 913 L90.57 911.25 L82.24 916.25 L73.9 918Z"/>
<path class="g" d="M74.5 824.5H1182.5M74.5 854.5H1182.5M74.5 884.5H1182.5M74.5 914.5H1182.5M74.5 944.5H1182.5M74.5 974.5H1182.5M74.5 1004.5H1182.5M132.5 1034.5V794.5M274.5 1034.5V794.5M390.5 1034.5V794.5M524.5 1034.5V794.5M640.5 1034.5V794.5M782.5 1034.5V794.5M899.5 1034.5V794.5M1041.5 1034.5V794.5M1157.5 1034.5V794.5"/>
<path class="s" style="stroke-width:.78" d="M74.5 914.5H1182.5"/>
<path class="r" d="M73.9 875.5 L82.24 876.25 L90.57 873 L98.91 871.25 L107.24 873 L115.58 876.75 L123.91 882 L132.25 883 L140.58 888.75 L148.92 897.5 L157.25 905 L165.59 911.5 L173.92 902.5 L182.26 904.5 L190.59 908.75 L198.93 914.25 L207.26 916.25 L215.6 918 L223.93 920.5 L232.27 920 L240.6 921.25 L248.94 924.25 L257.27 928 L265.61 919.5 L273.94 917.5 L282.28 915.5 L290.61 911.25 L298.95 902.5 L307.28 891.25 L315.62 883.75 L323.95 874.25 L332.29 873.25 L340.62 877 L348.96 881.25 L357.29 885.75 L365.62 886.25 L373.96 883 L382.3 884.25 L390.63 875 L398.97 884.5 L407.3 885 L415.63 902.5 L423.97 908 L432.31 912 L440.64 909.5 L448.98 904.25 L457.31 900.5 L465.65 900 L473.98 895 L482.32 890 L490.65 885.5 L498.99 882.5 L507.32 878.75 L515.66 876.75 L523.99 881.25 L532.33 884.5 L540.66 881.25 L549 880 L557.33 877.5 L565.67 875.5 L574 873.25 L582.34 874 L590.67 878 L599 883.75 L607.34 889.25 L615.68 886.25 L624.01 884 L632.35 880.75 L640.68 881.25 L649.01 879.5 L657.35 880 L665.69 884.25 L674.02 879.5 L682.36 880 L690.69 878.75 L699.03 886.25 L707.36 891.5 L715.7 886.25 L724.03 884.5 L732.37 885.5 L740.7 902.5 L749.04 908 L757.37 915 L765.71 907 L774.04 906.25 L782.38 895 L790.71 889.5 L799.05 886 L807.38 888.75 L815.72 890.75 L824.05 893.75 L832.39 893.75 L840.72 899.5 L849.06 898.25 L857.39 898.5 L865.73 895.75 L874.06 897 L882.4 892.5 L890.73 891.25 L899.07 885.5 L907.4 890.75 L915.74 887.5 L924.07 888.25 L932.41 879.5 L940.74 874.25 L949.08 874.25 L957.41 874.25 L965.75 881.25 L974.08 878.75 L982.42 880.5 L990.75 876.25 L999.09 885.5 L1007.42 889.5 L1015.76 894 L1024.09 894.5 L1032.43 895 L1040.76 895 L1049.1 892.5 L1057.43 895.5 L1065.77 900 L1074.1 903 L1082.44 899.5 L1090.77 902 L1099.11 905 L1107.44 915 L1115.78 917.5 L1124.11 915 L1132.45 908.75 L1140.78 902.5 L1149.12 902M73.9 937 L82.24 935.5 L90.57 926.25 L98.91 927.5 L107.24 935 L115.58 945.5 L123.91 958 L132.25 962 L140.58 968.75 L148.92 977 L157.25 990 L165.59 998 L173.92 989.5 L182.26 985.5 L190.59 983.75 L198.93 987 L207.26 982.5 L215.6 983.75 L223.93 987.5 L232.27 989.25 L240.6 984.25 L248.94 984.5 L257.27 988 L265.61 990.5 L273.94 981.25 L282.28 974.5 L290.61 963.75 L298.95 961.25 L307.28 951.25 L315.62 943.75 L323.95 930 L332.29 923 L340.62 930 L348.96 931.25 L357.29 943 L365.62 948.75 L373.96 956.25 L382.3 961.25 L390.63 965 L398.97 977.5 L407.3 983.75 L415.63 987.5 L423.97 989.25 L432.31 991.25 L440.64 982.5 L448.98 971.25 L457.31 957 L465.65 955 L473.98 953.75 L482.32 952 L490.65 948.75 L498.99 943.75 L507.32 937 L515.66 935.5 L523.99 941.25 L532.33 947.5 L540.66 948.75 L549 952 L557.33 953.75 L565.67 955 L574 950 L582.34 947 L590.67 949.5 L599 952 L607.34 955 L615.68 951.25 L624.01 952.5 L632.35 949.5 L640.68 945.5 L649.01 944.25 L657.35 947 L665.69 952.5 L674.02 948.75 L682.36 945 L690.69 943 L699.03 943.75 L707.36 947 L715.7 948.75 L724.03 955 L732.37 961.25 L740.7 972 L749.04 978.75 L757.37 979.25 L765.71 970 L774.04 963.75 L782.38 966.25 L790.71 972.5 L799.05 973.25 L807.38 975.5 L815.72 978.25 L824.05 976.75 L832.39 971.25 L840.72 962 L849.06 957.5 L857.39 946.25 L865.73 949.5 L874.06 951.25 L882.4 953.25 L890.73 947 L899.07 941.25 L907.4 946.25 L915.74 945 L924.07 937.5 L932.41 931.25 L940.74 929.5 L949.08 933.75 L957.41 935 L965.75 939.25 L974.08 935.5 L982.42 935.5 L990.75 933.75 L999.09 943.75 L1007.42 949.5 L1015.76 950.5 L1024.09 948 L1032.43 942.5 L1040.76 937 L1049.1 935.75 L1057.43 938.75 L1065.77 939.5 L1074.1 941.25 L1082.44 942.5 L1090.77 950 L1099.11 953.25 L1107.44 956.5 L1115.78 954.25 L1124.11 954 L1132.45 948.25 L1140.78 943 L1149.12 937"/>
<path class="b" d="M73.9 902.5 L82.24 902 L90.57 898 L98.91 898.75 L107.24 903.75 L115.58 909.5 L123.91 914.5 L132.25 916.25 L140.58 928 L148.92 942.5 L157.25 955 L165.59 958.75 L173.92 951.25 L182.26 943 L190.59 942.5 L198.93 944.5 L207.26 948.75 L215.6 951.25 L223.93 955.75 L232.27 955.5 L240.6 953 L248.94 953.75 L257.27 955.5 L265.61 956.75 L273.94 954.5 L282.28 949.5 L290.61 939.5 L298.95 932 L307.28 922 L315.62 913 L323.95 903 L332.29 898.75 L340.62 902 L348.96 905 L357.29 910 L365.62 913.75 L373.96 918.75 L382.3 923.75 L390.63 925.5 L398.97 936.25 L407.3 941.25 L415.63 952 L423.97 953 L432.31 953.75 L440.64 943 L448.98 931.25 L457.31 922 L465.65 921.25 L473.98 920.5 L482.32 919 L490.65 915 L498.99 910.5 L507.32 903.75 L515.66 906 L523.99 910 L532.33 914.5 L540.66 913.75 L549 913 L557.33 912 L565.67 911.75 L574 909.75 L582.34 912 L590.67 913.25 L599 919.5 L607.34 922 L615.68 922.75 L624.01 920 L632.35 915.75 L640.68 911.25 L649.01 906.25 L657.35 908 L665.69 910.75 L674.02 911.75 L682.36 912 L690.69 912.5 L699.03 916.25 L707.36 920.5 L715.7 920 L724.03 919.5 L732.37 925.75 L740.7 937.5 L749.04 947 L757.37 947.5 L765.71 940.75 L774.04 937 L782.38 930 L790.71 927.5 L799.05 925.5 L807.38 931.25 L815.72 935.5 L824.05 940.5 L832.39 941.25 L840.72 936.25 L849.06 928 L857.39 922 L865.73 921 L874.06 922 L882.4 920 L890.73 917 L899.07 913 L907.4 917 L915.74 917.5 L924.07 913.75 L932.41 905 L940.74 901.75 L949.08 902 L957.41 903 L965.75 906.75 L974.08 906.25 L982.42 905.75 L990.75 907.5 L999.09 915 L1007.42 920.5 L1015.76 924 L1024.09 923 L1032.43 920.5 L1040.76 917.5 L1049.1 915.5 L1057.43 918.25 L1065.77 920.5 L1074.1 921.25 L1082.44 921 L1090.77 925 L1099.11 930.5 L1107.44 936.75 L1115.78 938 L1124.11 936.75 L1132.45 929.5 L1140.78 925 L1149.12 920"/>
<path class="o" d="M73.9 879.5 L82.24 876.75 L90.57 877.75 L98.91 881 L107.24 895 L115.58 905.5 L123.91 915.75 L132.25 925 L140.58 937 L148.92 948.75 L157.25 955.25 L165.59 956.75 L173.92 954.25 L182.26 951.5 L190.59 953.25 L198.93 958.25 L207.26 961.25 L215.6 959.5 L223.93 957.25 L232.27 959.5 L240.6 962.75 L248.94 961.75 L257.27 957.5 L265.61 951.25 L273.94 940 L282.28 923.25 L290.61 908.25 L298.95 903.25 L307.28 906.75 L315.62 916.75 L323.95 929.5 L332.29 942.5 L340.62 950.75 L348.96 955.75 L357.29 956 L365.62 952 L373.96 948.25 L382.3 948.75 L390.63 953.75 L398.97 959.5 L407.3 962 L415.63 956.25 L423.97 943.75 L432.31 931.25 L440.64 925 L448.98 922.5 L457.31 924 L465.65 923.5 L473.98 919.5 L482.32 910 L490.65 900.5 L498.99 893.75 L507.32 886.75 L515.66 893.75 L523.99 907.5 L532.33 926.25 L540.66 935.25 L549 941.75 L557.33 947 L565.67 951.5 L574 952 L582.34 948.75 L590.67 940 L599 928.25 L607.34 923.5 L615.68 920.5 L624.01 915.5 L632.35 905 L640.68 897.75 L649.01 895.75 L657.35 896 L665.69 895 L674.02 898.25 L682.36 908.25 L690.69 917.75 L699.03 924 L707.36 926 L715.7 929.25 L724.03 936.25 L732.37 942.75 L740.7 949.25 L749.04 952.25 L757.37 954.25 L765.71 955 L774.04 952.25 L782.38 949.25 L790.71 948.75 L799.05 950.25 L807.38 950.75 L815.72 949.75 L824.05 946 L832.39 939.5 L840.72 932 L849.06 926.75 L857.39 923.25 L865.73 915.25 L874.06 909.75 L882.4 905.75 L890.73 905.25 L899.07 906 L907.4 908.25 L915.74 904.5 L924.07 898.75 L932.41 893.35 L940.74 893.85 L949.08 899.75 L957.41 910 L965.75 921.5 L974.08 927.75 L982.42 927 L990.75 924 L999.09 924.25 L1007.42 928.25 L1015.76 933 L1024.09 933.5 L1032.43 927.5 L1040.76 921.25 L1049.1 916.5 L1057.43 915.5 L1065.77 914.5"/>
</g>
<path class="s" d="M74.5 794.5H1182.5V1034.5H74.5ZM74.5 794.5h-5.4M74.5 824.5h-5.4M74.5 854.5h-5.4M74.5 884.5h-5.4M74.5 914.5h-5.4M74.5 944.5h-5.4M74.5 974.5h-5.4M74.5 1004.5h-5.4M74.5 1034.5h-5.4M132.5 1034.5v5.4M274.5 1034.5v5.4M390.5 1034.5v5.4M524.5 1034.5v5.4M640.5 1034.5v5.4M782.5 1034.5v5.4M899.5 1034.5v5.4M1041.5 1034.5v5.4M1157.5 1034.5v5.4"/>
<text x="55.96" y="799" font-size="14.7" textLength="8.17" lengthAdjust="spacingAndGlyphs">4</text><text x="55.79" y="829" font-size="14.7" textLength="7.51" lengthAdjust="spacingAndGlyphs">3</text><text x="55.59" y="859" font-size="14.7" textLength="7.81" lengthAdjust="spacingAndGlyphs">2</text><text x="56.17" y="889" font-size="14.7" textLength="8.26" lengthAdjust="spacingAndGlyphs">1</text><text x="56.78" y="919" font-size="14.7" textLength="7.45" lengthAdjust="spacingAndGlyphs">0</text><text x="44.48" y="950" font-size="14.7" textLength="19.04" lengthAdjust="spacingAndGlyphs">−1</text><text x="44.52" y="980" font-size="14.7" textLength="17.97" lengthAdjust="spacingAndGlyphs">−2</text><text x="44.48" y="1010" font-size="14.7" textLength="18.95" lengthAdjust="spacingAndGlyphs">−3</text><text x="44.49" y="1040" font-size="14.7" textLength="18.69" lengthAdjust="spacingAndGlyphs">−4</text>
<text x="109.33" y="1055" font-size="14.7" textLength="16.71" lengthAdjust="spacingAndGlyphs">15</text><text x="131.1" y="1055" font-size="14.7" textLength="23.74" lengthAdjust="spacingAndGlyphs">Oct</text><text x="249.44" y="1055" font-size="14.7" textLength="16.8" lengthAdjust="spacingAndGlyphs">01</text><text x="271.34" y="1055" font-size="14.7" textLength="26.61" lengthAdjust="spacingAndGlyphs">Nov</text><text x="366.2" y="1055" font-size="14.7" textLength="16.71" lengthAdjust="spacingAndGlyphs">15</text><text x="388.04" y="1055" font-size="14.7" textLength="26.61" lengthAdjust="spacingAndGlyphs">Nov</text><text x="499.64" y="1055" font-size="14.7" textLength="16.8" lengthAdjust="spacingAndGlyphs">01</text><text x="521.55" y="1055" font-size="14.7" textLength="26.25" lengthAdjust="spacingAndGlyphs">Dec</text><text x="616.4" y="1055" font-size="14.7" textLength="16.71" lengthAdjust="spacingAndGlyphs">15</text><text x="638.26" y="1055" font-size="14.7" textLength="26.25" lengthAdjust="spacingAndGlyphs">Dec</text><text x="760.79" y="1055" font-size="14.7" textLength="16.8" lengthAdjust="spacingAndGlyphs">01</text><text x="781.62" y="1055" font-size="14.7" textLength="22.05" lengthAdjust="spacingAndGlyphs">Jan</text><text x="877.55" y="1055" font-size="14.7" textLength="16.71" lengthAdjust="spacingAndGlyphs">15</text><text x="898.32" y="1055" font-size="14.7" textLength="22.05" lengthAdjust="spacingAndGlyphs">Jan</text><text x="1017.23" y="1055" font-size="14.7" textLength="16.8" lengthAdjust="spacingAndGlyphs">01</text><text x="1039.17" y="1055" font-size="14.7" textLength="25.03" lengthAdjust="spacingAndGlyphs">Feb</text><text x="1133.99" y="1055" font-size="14.7" textLength="16.71" lengthAdjust="spacingAndGlyphs">15</text><text x="1155.87" y="1055" font-size="14.7" textLength="25.03" lengthAdjust="spacingAndGlyphs">Feb</text>
<text x="74.47" y="785" font-size="26.4" textLength="46.32" lengthAdjust="spacingAndGlyphs">500</text><text x="121.74" y="785" font-size="26.4" textLength="39.68" lengthAdjust="spacingAndGlyphs">mb</text><text x="169.8" y="785" font-size="26.4" textLength="16.59" lengthAdjust="spacingAndGlyphs">Z</text><text x="195.02" y="785" font-size="26.4" textLength="40.6" lengthAdjust="spacingAndGlyphs">(10</text><text x="244.33" y="785" font-size="26.4" textLength="45.09" lengthAdjust="spacingAndGlyphs">day</text><text x="298.31" y="785" font-size="26.4" textLength="54.93" lengthAdjust="spacingAndGlyphs">Fore</text><text x="353.57" y="785" font-size="26.4" textLength="61.06" lengthAdjust="spacingAndGlyphs">cast)</text>
<text x="811.83" y="785" font-size="22" textLength="58.49" lengthAdjust="spacingAndGlyphs">mean</text><text x="871.47" y="785" font-size="22" textLength="15.68" lengthAdjust="spacingAndGlyphs">=</text><text x="887.99" y="785" font-size="22" textLength="87.17" lengthAdjust="spacingAndGlyphs">-0.3262;</text><text x="982.22" y="785" font-size="22" textLength="33.02" lengthAdjust="spacingAndGlyphs">cor</text><text x="1015.16" y="785" font-size="22" textLength="31.88" lengthAdjust="spacingAndGlyphs">(w/</text><text x="1047.23" y="785" font-size="22" textLength="44.38" lengthAdjust="spacingAndGlyphs">obs)</text><text x="1092.88" y="785" font-size="22" textLength="15.68" lengthAdjust="spacingAndGlyphs">=</text><text x="1109.9" y="785" font-size="22" textLength="71.66" lengthAdjust="spacingAndGlyphs">0.6521</text>
<text transform="translate(34.1 945.4) rotate(-90)" x="-2.27" y="0" font-size="24.2" textLength="60.13" lengthAdjust="spacingAndGlyphs">Index</text>
</g>
<g id="panel4">
<g clip-path="url(#c3)">
<path class="y" d="M73.9 1219.5 L82.24 1220 L90.57 1219.5 L98.91 1217 L107.24 1215.5 L115.58 1216.25 L123.91 1218 L132.25 1220.75 L140.58 1223 L148.92 1228 L157.25 1235 L165.59 1241.25 L173.92 1248.75 L182.26 1253.75 L190.59 1253.75 L198.93 1251.25 L207.26 1243 L215.6 1245 L223.93 1249.5 L232.27 1255 L240.6 1257.5 L248.94 1256.25 L257.27 1256.25 L265.61 1255 L273.94 1252.5 L282.28 1243.75 L290.61 1242.5 L298.95 1237 L307.28 1236.25 L315.62 1228.75 L323.95 1224.5 L332.29 1221.25 L340.62 1217.5 L348.96 1215.5 L357.29 1210.5 L365.62 1211.25 L373.96 1214.5 L382.3 1217 L390.63 1221.25 L398.97 1222.5 L407.3 1222.5 L415.63 1220.5 L423.97 1220 L432.31 1227.5 L440.64 1230 L448.98 1237 L457.31 1235 L465.65 1238.75 L473.98 1232.5 L482.32 1226.25 L490.65 1220 L498.99 1216.25 L507.32 1217.5 L515.66 1220 L523.99 1221.25 L532.33 1219.5 L540.66 1223.75 L549 1223.75 L557.33 1226.25 L565.67 1217.5 L574 1208.75 L582.34 1202.5 L590.67 1203.75 L599 1209.5 L607.34 1210.5 L615.68 1212 L624.01 1213 L632.35 1220 L640.68 1223.75 L649.01 1224.5 L657.35 1222.5 L665.69 1216.25 L674.02 1215 L682.36 1213.75 L690.69 1218.75 L699.03 1218.75 L707.36 1219.5 L715.7 1217 L724.03 1216.25 L732.37 1220.5 L740.7 1223.75 L749.04 1227 L757.37 1229.5 L765.71 1233 L774.04 1236.25 L782.38 1232.5 L790.71 1225.5 L799.05 1217.5 L807.38 1217 L815.72 1216.25 L824.05 1215.5 L832.39 1215.5 L840.72 1223.75 L849.06 1231.25 L857.39 1233.75 L865.73 1231.25 L874.06 1229.5 L882.4 1227 L890.73 1224.5 L899.07 1225.5 L907.4 1225 L915.74 1223.75 L924.07 1221.25 L932.41 1218.75 L940.74 1221.25 L949.08 1223 L957.41 1222.5 L965.75 1218.75 L974.08 1216.25 L982.42 1217 L990.75 1214.5 L999.09 1211.25 L1007.42 1208.75 L1015.76 1208.25 L1024.09 1216.25 L1032.43 1222.5 L1040.76 1227 L1049.1 1227.5 L1057.43 1228 L1065.77 1230 L1074.1 1232.5 L1082.44 1233 L1090.77 1236.25 L1099.11 1239.5 L1107.44 1241.25 L1115.78 1238.75 L1124.11 1238 L1132.45 1242.5 L1140.78 1242.5 L1149.12 1238 L1157.45 1229.5 L1165.79 1225 L1174.12 1223.25 L1182.46 1223.75 L1182.46 1248.75 L1174.12 1250.5 L1165.79 1252.5 L1157.45 1257.5 L1149.12 1265 L1140.78 1268.75 L1132.45 1270 L1124.11 1268 L1115.78 1267.5 L1107.44 1268.25 L1099.11 1267 L1090.77 1264.5 L1082.44 1260.5 L1074.1 1258 L1065.77 1254.5 L1057.43 1255.5 L1049.1 1257 L1040.76 1260 L1032.43 1257.5 L1024.09 1253.75 L1015.76 1250 L1007.42 1248 L999.09 1247.5 L990.75 1248.75 L982.42 1251.25 L974.08 1249.5 L965.75 1251.25 L957.41 1253.75 L949.08 1255.5 L940.74 1253.75 L932.41 1251.25 L924.07 1255 L915.74 1257 L907.4 1258 L899.07 1255.5 L890.73 1255.5 L882.4 1259.5 L874.06 1263.75 L865.73 1270 L857.39 1275 L849.06 1276.25 L840.72 1275 L832.39 1270 L824.05 1268 L815.72 1268.75 L807.38 1272 L799.05 1276.25 L790.71 1283.75 L782.38 1287 L774.04 1280 L765.71 1277.5 L757.37 1275 L749.04 1273.75 L740.7 1267.5 L732.37 1260.5 L724.03 1255 L715.7 1260.5 L707.36 1257.5 L699.03 1261.25 L690.69 1256.25 L682.36 1253 L674.02 1252.5 L665.69 1257.5 L657.35 1263.75 L649.01 1263 L640.68 1261.25 L632.35 1260 L624.01 1257.5 L615.68 1257 L607.34 1257 L599 1256.25 L590.67 1253.75 L582.34 1254.5 L574 1257.5 L565.67 1262 L557.33 1268.75 L549 1270 L540.66 1266.25 L532.33 1258.75 L523.99 1257 L515.66 1255 L507.32 1255.5 L498.99 1255 L490.65 1258.75 L482.32 1271.25 L473.98 1282 L465.65 1291.25 L457.31 1286.25 L448.98 1287 L440.64 1282 L432.31 1277.5 L423.97 1271.25 L415.63 1268.75 L407.3 1265.5 L398.97 1259.5 L390.63 1253.75 L382.3 1246.25 L373.96 1243 L365.62 1240.5 L357.29 1243 L348.96 1247.5 L340.62 1252.5 L332.29 1257.5 L323.95 1262.5 L315.62 1268.75 L307.28 1277 L298.95 1278.75 L290.61 1282.5 L282.28 1284.5 L273.94 1290 L265.61 1293.75 L257.27 1293.75 L248.94 1294.5 L240.6 1296.25 L232.27 1293.75 L223.93 1290 L215.6 1285.5 L207.26 1287.5 L198.93 1299.5 L190.59 1306.25 L182.26 1310.5 L173.92 1306.25 L165.59 1297 L157.25 1287 L148.92 1275 L140.58 1270 L132.25 1268 L123.91 1264.5 L115.58 1260 L107.24 1255.5 L98.91 1256.25 L90.57 1256.25 L82.24 1257 L73.9 1254.5Z"/>
<path class="g" d="M74.5 1150.5H1182.5M74.5 1181.5H1182.5M74.5 1211.5H1182.5M74.5 1241.5H1182.5M74.5 1271.5H1182.5M74.5 1301.5H1182.5M74.5 1331.5H1182.5M132.5 1361.5V1120.5M274.5 1361.5V1120.5M390.5 1361.5V1120.5M524.5 1361.5V1120.5M640.5 1361.5V1120.5M782.5 1361.5V1120.5M899.5 1361.5V1120.5M1041.5 1361.5V1120.5M1157.5 1361.5V1120.5"/>
<path class="s" style="stroke-width:.78" d="M74.5 1241.5H1182.5"/>
<path class="r" d="M73.9 1208 L82.24 1207 L90.57 1206.25 L98.91 1203.75 L107.24 1201.75 L115.58 1199.5 L123.91 1194.25 L132.25 1193.5 L140.58 1190 L148.92 1198.75 L157.25 1208 L165.59 1214.5 L173.92 1221.75 L182.26 1220.75 L190.59 1226 L198.93 1226.5 L207.26 1225.5 L215.6 1229 L223.93 1227.5 L232.27 1234.5 L240.6 1233.5 L248.94 1234.75 L257.27 1234.5 L265.61 1234.25 L273.94 1237 L282.28 1223.5 L290.61 1222 L298.95 1214.25 L307.28 1219.25 L315.62 1211.25 L323.95 1208.25 L332.29 1203.75 L340.62 1200.75 L348.96 1195 L357.29 1191.25 L365.62 1193.75 L373.96 1200.75 L382.3 1205.5 L390.63 1206.75 L398.97 1204.5 L407.3 1201.75 L415.63 1199.5 L423.97 1196.25 L432.31 1206.75 L440.64 1210.5 L448.98 1220 L457.31 1211.25 L465.65 1213.25 L473.98 1212.5 L482.32 1211.25 L490.65 1208.75 L498.99 1201.75 L507.32 1203.5 L515.66 1199.5 L523.99 1203.25 L532.33 1193 L540.66 1198.25 L549 1198.25 L557.33 1206.25 L565.67 1195 L574 1186.25 L582.34 1178.25 L590.67 1185 L599 1191.75 L607.34 1195.25 L615.68 1195.5 L624.01 1196.25 L632.35 1206.25 L640.68 1208 L649.01 1203.75 L657.35 1200 L665.69 1197.5 L674.02 1201.75 L682.36 1199.5 L690.69 1203.75 L699.03 1196.75 L707.36 1199.25 L715.7 1193 L724.03 1195.5 L732.37 1198 L740.7 1197.75 L749.04 1202.5 L757.37 1207 L765.71 1211.5 L774.04 1211.25 L782.38 1192 L790.71 1181.75 L799.05 1176.25 L807.38 1188.75 L815.72 1196.75 L824.05 1195 L832.39 1199.5 L840.72 1205 L849.06 1212 L857.39 1210.75 L865.73 1214.5 L874.06 1217 L882.4 1217.5 L890.73 1213.75 L899.07 1210 L907.4 1208.25 L915.74 1205.75 L924.07 1202 L932.41 1196.25 L940.74 1199.25 L949.08 1202.5 L957.41 1205.75 L965.75 1203.75 L974.08 1201.5 L982.42 1205 L990.75 1201.25 L999.09 1195.75 L1007.42 1190 L1015.76 1187.5 L1024.09 1196.25 L1032.43 1201.25 L1040.76 1201.75 L1049.1 1202.5 L1057.43 1205.75 L1065.77 1216.25 L1074.1 1220.5 L1082.44 1219.5 L1090.77 1224.5 L1099.11 1225.5 L1107.44 1222.5 L1115.78 1216.5 L1124.11 1219.25 L1132.45 1228.25 L1140.78 1229.25 L1149.12 1222 L1157.45 1213.75 L1165.79 1210.75 L1174.12 1210.25 L1182.46 1212.5M73.9 1278.75 L82.24 1278 L90.57 1277 L98.91 1280.5 L107.24 1283 L115.58 1288 L123.91 1292.5 L132.25 1297 L140.58 1303.75 L148.92 1310.5 L157.25 1324.5 L165.59 1337 L173.92 1341.25 L182.26 1342 L190.59 1328.75 L198.93 1324.5 L207.26 1312 L215.6 1307 L223.93 1309.5 L232.27 1317 L240.6 1320.5 L248.94 1317.5 L257.27 1312 L265.61 1315.5 L273.94 1316.75 L282.28 1310 L290.61 1307.5 L298.95 1305 L307.28 1304.5 L315.62 1296.25 L323.95 1288.75 L332.29 1287 L340.62 1283 L348.96 1273.75 L357.29 1266.25 L365.62 1259.25 L373.96 1260.5 L382.3 1264.5 L390.63 1276.25 L398.97 1286.25 L407.3 1295 L415.63 1301.25 L423.97 1302.5 L432.31 1311.25 L440.64 1312 L448.98 1322 L457.31 1316.25 L465.65 1318.75 L473.98 1305 L482.32 1300 L490.65 1285 L498.99 1280 L507.32 1275.75 L515.66 1280 L523.99 1282 L532.33 1283.75 L540.66 1293.75 L549 1299.5 L557.33 1306.25 L565.67 1296.25 L574 1290 L582.34 1281.25 L590.67 1278 L599 1278.25 L607.34 1284.5 L615.68 1287.5 L624.01 1289.5 L632.35 1286.25 L640.68 1282.5 L649.01 1283.75 L657.35 1283.25 L665.69 1281.25 L674.02 1274.5 L682.36 1282.5 L690.69 1279.5 L699.03 1286.75 L707.36 1272.5 L715.7 1283.75 L724.03 1278 L732.37 1286.25 L740.7 1285 L749.04 1293.75 L757.37 1292 L765.71 1294.5 L774.04 1295 L782.38 1303.25 L790.71 1303.75 L799.05 1297.5 L807.38 1291.25 L815.72 1290.5 L824.05 1297.5 L832.39 1300.5 L840.72 1300.5 L849.06 1295 L857.39 1290 L865.73 1285 L874.06 1280 L882.4 1277 L890.73 1274.25 L899.07 1273 L907.4 1276.25 L915.74 1272.5 L924.07 1268.25 L932.41 1264.5 L940.74 1269.5 L949.08 1276.25 L957.41 1271.75 L965.75 1271.5 L974.08 1268 L982.42 1275.5 L990.75 1273.25 L999.09 1279.5 L1007.42 1278.75 L1015.76 1279.5 L1024.09 1273 L1032.43 1271.5 L1040.76 1271 L1049.1 1266.75 L1057.43 1266.5 L1065.77 1266.25 L1074.1 1273.75 L1082.44 1275.75 L1090.77 1278.25 L1099.11 1278.5 L1107.44 1280.5 L1115.78 1282 L1124.11 1283.75 L1132.45 1285.5 L1140.78 1283.75 L1149.12 1278.75 L1157.45 1275.5 L1165.79 1268.25 L1174.12 1265.5 L1182.46 1260.5"/>
<path class="b" d="M73.9 1236.25 L82.24 1238 L90.57 1237 L98.91 1236.25 L107.24 1235.5 L115.58 1238.75 L123.91 1242 L132.25 1244.5 L140.58 1246.5 L148.92 1251.75 L157.25 1260.5 L165.59 1268.25 L173.92 1277 L182.26 1282 L190.59 1278.75 L198.93 1273.75 L207.26 1265 L215.6 1265 L223.93 1270 L232.27 1275 L240.6 1276.75 L248.94 1274.5 L257.27 1274 L265.61 1274 L273.94 1271.25 L282.28 1263.75 L290.61 1262 L298.95 1257.5 L307.28 1256.25 L315.62 1248.75 L323.95 1243.75 L332.29 1240 L340.62 1235.5 L348.96 1232.5 L357.29 1227.5 L365.62 1226.25 L373.96 1228.75 L382.3 1231.25 L390.63 1237.5 L398.97 1240.75 L407.3 1244.5 L415.63 1245 L423.97 1245.5 L432.31 1252.5 L440.64 1256.25 L448.98 1262 L457.31 1260.5 L465.65 1265 L473.98 1257.5 L482.32 1248.75 L490.65 1240 L498.99 1235.75 L507.32 1237 L515.66 1237 L523.99 1238.75 L532.33 1238.75 L540.66 1246.25 L549 1248 L557.33 1251 L565.67 1240 L574 1233.75 L582.34 1228 L590.67 1228.25 L599 1233.25 L607.34 1233.25 L615.68 1234.5 L624.01 1234.25 L632.35 1240 L640.68 1242.5 L649.01 1243 L657.35 1242 L665.69 1236.25 L674.02 1233.75 L682.36 1232.5 L690.69 1236.25 L699.03 1239.5 L707.36 1237.5 L715.7 1237.5 L724.03 1235 L732.37 1240 L740.7 1245 L749.04 1250.5 L757.37 1251.75 L765.71 1254.5 L774.04 1257 L782.38 1259.5 L790.71 1253.75 L799.05 1247 L807.38 1244.5 L815.72 1242 L824.05 1241.75 L832.39 1242 L840.72 1248.75 L849.06 1252.5 L857.39 1254 L865.73 1250 L874.06 1246.25 L882.4 1242.5 L890.73 1239.5 L899.07 1240.5 L907.4 1241.25 L915.74 1240.5 L924.07 1238.25 L932.41 1235.5 L940.74 1238 L949.08 1239.25 L957.41 1238 L965.75 1235 L974.08 1233.25 L982.42 1235 L990.75 1231.75 L999.09 1229.5 L1007.42 1228 L1015.76 1228.75 L1024.09 1233.75 L1032.43 1238.75 L1040.76 1242.5 L1049.1 1242 L1057.43 1241.25 L1065.77 1242.5 L1074.1 1245.75 L1082.44 1246.75 L1090.77 1250.5 L1099.11 1253.25 L1107.44 1254.75 L1115.78 1253 L1124.11 1252.5 L1132.45 1255.75 L1140.78 1255.25 L1149.12 1251.25 L1157.45 1243.75 L1165.79 1238 L1174.12 1236.5 L1182.46 1235.5"/>
<path class="o" d="M73.9 1206.75 L82.24 1204 L90.57 1205 L98.91 1208.25 L107.24 1222.25 L115.58 1232.75 L123.91 1243 L132.25 1252.25 L140.58 1264.25 L148.92 1276 L157.25 1282.5 L165.59 1284 L173.92 1281.5 L182.26 1278.75 L190.59 1280.5 L198.93 1285.5 L207.26 1288.5 L215.6 1286.75 L223.93 1284.5 L232.27 1286.75 L240.6 1290 L248.94 1289 L257.27 1284.75 L265.61 1278.5 L273.94 1267.25 L282.28 1250.5 L290.61 1235.5 L298.95 1230.5 L307.28 1234 L315.62 1244 L323.95 1256.75 L332.29 1269.75 L340.62 1278 L348.96 1283 L357.29 1283.25 L365.62 1279.25 L373.96 1275.5 L382.3 1276 L390.63 1281 L398.97 1286.75 L407.3 1289.25 L415.63 1283.5 L423.97 1271 L432.31 1258.5 L440.64 1252.25 L448.98 1249.75 L457.31 1251.25 L465.65 1250.75 L473.98 1246.75 L482.32 1237.25 L490.65 1227.75 L498.99 1221 L507.32 1214 L515.66 1221 L523.99 1234.75 L532.33 1253.5 L540.66 1262.5 L549 1269 L557.33 1274.25 L565.67 1278.75 L574 1279.25 L582.34 1276 L590.67 1267.25 L599 1255.5 L607.34 1250.75 L615.68 1247.75 L624.01 1242.75 L632.35 1232.25 L640.68 1225 L649.01 1223 L657.35 1223.25 L665.69 1222.25 L674.02 1225.5 L682.36 1235.5 L690.69 1245 L699.03 1251.25 L707.36 1253.25 L715.7 1256.5 L724.03 1263.5 L732.37 1270 L740.7 1276.5 L749.04 1279.5 L757.37 1281.5 L765.71 1282.25 L774.04 1279.5 L782.38 1276.5 L790.71 1276 L799.05 1277.5 L807.38 1278 L815.72 1277 L824.05 1273.25 L832.39 1266.75 L840.72 1259.25 L849.06 1254 L857.39 1250.5 L865.73 1242.5 L874.06 1237 L882.4 1233 L890.73 1232.5 L899.07 1233.25 L907.4 1235.5 L915.74 1231.75 L924.07 1226 L932.41 1220.6 L940.74 1221.1 L949.08 1227 L957.41 1237.25 L965.75 1248.75 L974.08 1255 L982.42 1254.25 L990.75 1251.25 L999.09 1251.5 L1007.42 1255.5 L1015.76 1260.25 L1024.09 1260.75 L1032.43 1254.75 L1040.76 1248.5 L1049.1 1243.75 L1057.43 1242.75 L1065.77 1241.75"/>
</g>
<path class="s" d="M74.5 1120.5H1182.5V1361.5H74.5ZM74.5 1120.5h-5.4M74.5 1150.5h-5.4M74.5 1181.5h-5.4M74.5 1211.5h-5.4M74.5 1241.5h-5.4M74.5 1271.5h-5.4M74.5 1301.5h-5.4M74.5 1331.5h-5.4M74.5 1361.5h-5.4M132.5 1361.5v5.4M274.5 1361.5v5.4M390.5 1361.5v5.4M524.5 1361.5v5.4M640.5 1361.5v5.4M782.5 1361.5v5.4M899.5 1361.5v5.4M1041.5 1361.5v5.4M1157.5 1361.5v5.4"/>
<text x="55.96" y="1126" font-size="14.7" textLength="8.17" lengthAdjust="spacingAndGlyphs">4</text><text x="55.79" y="1156" font-size="14.7" textLength="7.51" lengthAdjust="spacingAndGlyphs">3</text><text x="55.59" y="1186" font-size="14.7" textLength="7.81" lengthAdjust="spacingAndGlyphs">2</text><text x="56.17" y="1216" font-size="14.7" textLength="8.26" lengthAdjust="spacingAndGlyphs">1</text><text x="56.78" y="1246" font-size="14.7" textLength="7.45" lengthAdjust="spacingAndGlyphs">0</text><text x="44.48" y="1276" font-size="14.7" textLength="19.04" lengthAdjust="spacingAndGlyphs">−1</text><text x="44.52" y="1306" font-size="14.7" textLength="17.97" lengthAdjust="spacingAndGlyphs">−2</text><text x="44.48" y="1336" font-size="14.7" textLength="18.95" lengthAdjust="spacingAndGlyphs">−3</text><text x="44.49" y="1367" font-size="14.7" textLength="18.69" lengthAdjust="spacingAndGlyphs">−4</text>
<text x="109.33" y="1382" font-size="14.7" textLength="16.71" lengthAdjust="spacingAndGlyphs">15</text><text x="131.1" y="1382" font-size="14.7" textLength="23.74" lengthAdjust="spacingAndGlyphs">Oct</text><text x="249.44" y="1382" font-size="14.7" textLength="16.8" lengthAdjust="spacingAndGlyphs">01</text><text x="271.34" y="1382" font-size="14.7" textLength="26.61" lengthAdjust="spacingAndGlyphs">Nov</text><text x="366.2" y="1382" font-size="14.7" textLength="16.71" lengthAdjust="spacingAndGlyphs">15</text><text x="388.04" y="1382" font-size="14.7" textLength="26.61" lengthAdjust="spacingAndGlyphs">Nov</text><text x="499.64" y="1382" font-size="14.7" textLength="16.8" lengthAdjust="spacingAndGlyphs">01</text><text x="521.55" y="1382" font-size="14.7" textLength="26.25" lengthAdjust="spacingAndGlyphs">Dec</text><text x="616.4" y="1382" font-size="14.7" textLength="16.71" lengthAdjust="spacingAndGlyphs">15</text><text x="638.26" y="1382" font-size="14.7" textLength="26.25" lengthAdjust="spacingAndGlyphs">Dec</text><text x="760.79" y="1382" font-size="14.7" textLength="16.8" lengthAdjust="spacingAndGlyphs">01</text><text x="781.62" y="1382" font-size="14.7" textLength="22.05" lengthAdjust="spacingAndGlyphs">Jan</text><text x="877.55" y="1382" font-size="14.7" textLength="16.71" lengthAdjust="spacingAndGlyphs">15</text><text x="898.32" y="1382" font-size="14.7" textLength="22.05" lengthAdjust="spacingAndGlyphs">Jan</text><text x="1017.23" y="1382" font-size="14.7" textLength="16.8" lengthAdjust="spacingAndGlyphs">01</text><text x="1039.17" y="1382" font-size="14.7" textLength="25.03" lengthAdjust="spacingAndGlyphs">Feb</text><text x="1133.99" y="1382" font-size="14.7" textLength="16.71" lengthAdjust="spacingAndGlyphs">15</text><text x="1155.87" y="1382" font-size="14.7" textLength="25.03" lengthAdjust="spacingAndGlyphs">Feb</text>
<text x="74.47" y="1112" font-size="26.4" textLength="46.32" lengthAdjust="spacingAndGlyphs">500</text><text x="121.74" y="1112" font-size="26.4" textLength="39.68" lengthAdjust="spacingAndGlyphs">mb</text><text x="169.8" y="1112" font-size="26.4" textLength="16.59" lengthAdjust="spacingAndGlyphs">Z</text><text x="195.02" y="1112" font-size="26.4" textLength="40.58" lengthAdjust="spacingAndGlyphs">(14</text><text x="244.33" y="1112" font-size="26.4" textLength="45.09" lengthAdjust="spacingAndGlyphs">day</text><text x="298.31" y="1112" font-size="26.4" textLength="54.93" lengthAdjust="spacingAndGlyphs">Fore</text><text x="353.57" y="1112" font-size="26.4" textLength="61.06" lengthAdjust="spacingAndGlyphs">cast)</text>
<text x="811.83" y="1112" font-size="22" textLength="58.49" lengthAdjust="spacingAndGlyphs">mean</text><text x="871.47" y="1112" font-size="22" textLength="15.68" lengthAdjust="spacingAndGlyphs">=</text><text x="887.99" y="1112" font-size="22" textLength="87.17" lengthAdjust="spacingAndGlyphs">-0.1677;</text><text x="982.22" y="1112" font-size="22" textLength="33.02" lengthAdjust="spacingAndGlyphs">cor</text><text x="1015.16" y="1112" font-size="22" textLength="31.88" lengthAdjust="spacingAndGlyphs">(w/</text><text x="1047.23" y="1112" font-size="22" textLength="44.38" lengthAdjust="spacingAndGlyphs">obs)</text><text x="1092.88" y="1112" font-size="22" textLength="15.68" lengthAdjust="spacingAndGlyphs">=</text><text x="1109.9" y="1112" font-size="22" textLength="71.6" lengthAdjust="spacingAndGlyphs">0.4055</text>
<text transform="translate(34.1 1271.9) rotate(-90)" x="-2.27" y="0" font-size="24.2" textLength="60.13" lengthAdjust="spacingAndGlyphs">Index</text>
</g>
</svg>
</body></html>
